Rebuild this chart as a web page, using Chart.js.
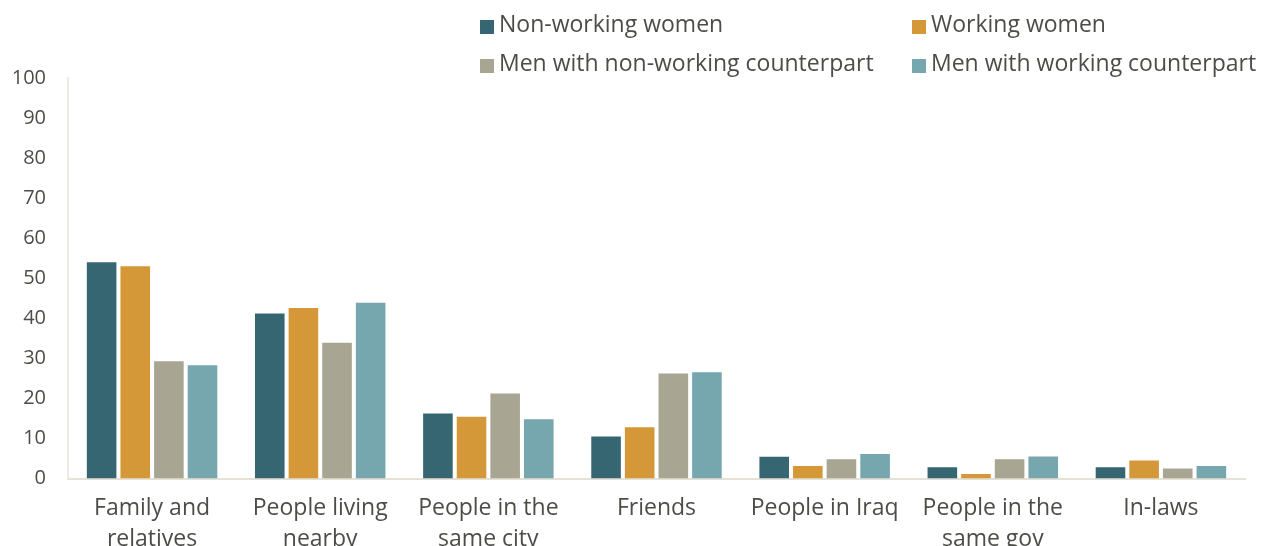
<!DOCTYPE html>
<html>
<head>
<meta charset="utf-8">
<script src="https://cdn.jsdelivr.net/npm/chart.js@4.4.1/dist/chart.umd.min.js"></script>
<style>
  html, body { margin: 0; padding: 0; background: #ffffff; overflow: hidden; }
  #wrap { position: relative; width: 1271px; height: 580px; }
</style>
</head>
<body>
<div id="wrap"><canvas id="chart"></canvas></div>
<script>
// Sources of support, share of respondents (%)
const categories = [
  ['Family and', 'relatives'],
  ['People living', 'nearby'],
  ['People in the', 'same city'],
  'Friends',
  'People in Iraq',
  ['People in the', 'same gov'],
  'In-laws'
];
const seriesNames = [
  'Non-working women',
  'Working women',
  'Men with non-working counterpart',
  'Men with working counterpart'
];
const nonWorkingWomen = [54.0, 41.2, 16.2, 10.5, 5.4, 2.8, 2.8];
const workingWomen    = [53.0, 42.6, 15.4, 12.8, 3.1, 1.1, 4.5];
const menNonWorking   = [29.3, 33.9, 21.2, 26.2, 4.8, 4.8, 2.5];
const menWorking      = [28.3, 43.9, 14.8, 26.5, 6.1, 5.5, 3.1];
const yTicks = [0, 10, 20, 30, 40, 50, 60, 70, 80, 90, 100];

const colors = ['#376673', '#D49838', '#A8A692', '#76A6AE'];
const textColor = '#4D4D48';
const fontFamily = "'Open Sans', 'Noto Sans', sans-serif";

// Two-column legend drawn in the top right corner
const gridLegend = {
  id: 'gridLegend',
  afterDraw(chart) {
    const ctx = chart.ctx;
    const colX = [480, 912];
    const rowY = [25, 64];
    ctx.save();
    ctx.font = '23px ' + fontFamily;
    ctx.textBaseline = 'middle';
    ctx.textAlign = 'left';
    chart.data.datasets.forEach((ds, i) => {
      const x = colX[i % 2];
      const y = rowY[Math.floor(i / 2)];
      ctx.fillStyle = ds.backgroundColor;
      ctx.fillRect(x, y - 5, 14, 14);
      ctx.fillStyle = textColor;
      ctx.fillText(ds.label, x + 19, y);
    });
    ctx.restore();
  }
};

const seriesValues = [nonWorkingWomen, workingWomen, menNonWorking, menWorking];

new Chart(document.getElementById('chart'), {
  type: 'bar',
  data: {
    labels: categories,
    datasets: seriesNames.map((name, i) => ({
      label: name,
      data: seriesValues[i],
      backgroundColor: colors[i],
      borderWidth: 0,
      barPercentage: 0.88,
      categoryPercentage: 0.8
    }))
  },
  options: {
    responsive: true,
    maintainAspectRatio: false,
    animation: false,
    layout: { padding: { top: 78, right: 26, left: 0, bottom: 0 } },
    plugins: {
      legend: { display: false },
      tooltip: { enabled: false }
    },
    scales: {
      x: {
        grid: { display: false, drawTicks: false },
        border: { display: true, color: '#E4E1D6', width: 2 },
        ticks: {
          color: textColor,
          font: { family: fontFamily, size: 23, lineHeight: 1.35 },
          padding: 14,
          maxRotation: 0,
          autoSkip: false
        },
        afterFit(scale) { scale.height = 101.5; }
      },
      y: {
        min: 0,
        max: 100,
        afterBuildTicks(scale) { scale.ticks = yTicks.map(v => ({ value: v })); },
        grid: { display: false, drawTicks: false },
        border: { display: true, color: '#ECEAE2', width: 2 },
        ticks: {
          color: textColor,
          font: { family: fontFamily, size: 20 },
          padding: 22
        },
        afterFit(scale) { scale.width = 68; }
      }
    }
  },
  plugins: [gridLegend]
});
</script>
</body>
</html>
